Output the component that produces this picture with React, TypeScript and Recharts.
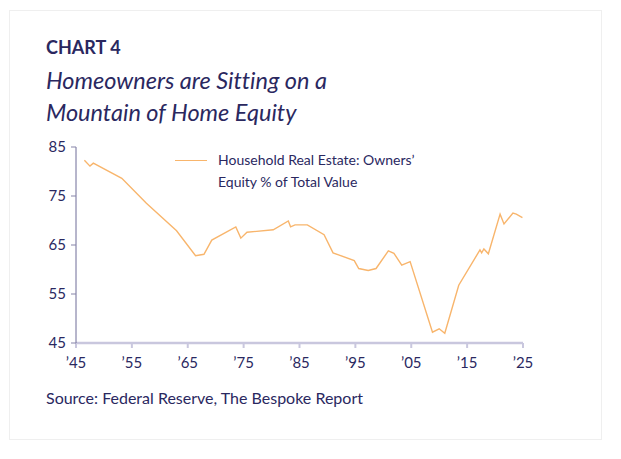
import React from "react";
import { Line, LineChart, XAxis, YAxis } from "recharts";

const years = [
  1946.5, 1947.5, 1948.1, 1953.2, 1957.6, 1963.0, 1966.4, 1967.9, 1969.3, 1973.6,
  1974.5, 1975.6, 1980.3, 1983.0, 1983.4, 1984.2, 1986.4, 1989.4, 1991.0, 1994.8,
  1995.6, 1997.3, 1998.7, 2000.9, 2001.9, 2003.3, 2004.8, 2008.8, 2010.0, 2011.0,
  2013.5, 2017.3, 2017.6, 2018.0, 2018.8, 2020.9, 2021.6, 2023.2, 2023.8, 2024.9,
];
const equityPct = [
  82.3, 81.1, 81.7, 78.6, 73.5, 67.9, 62.8, 63.1, 66.0, 68.7,
  66.4, 67.6, 68.1, 69.9, 68.7, 69.1, 69.1, 67.1, 63.4, 61.8,
  60.2, 59.8, 60.2, 63.8, 63.3, 60.9, 61.6, 47.2, 47.9, 47.0,
  56.8, 64.0, 63.4, 64.2, 63.2, 71.3, 69.3, 71.5, 71.3, 70.6,
];
const xTicks = [1945, 1955, 1965, 1975, 1985, 1995, 2005, 2015, 2025];
const yTicks = [45, 55, 65, 75, 85];
const seriesName = ["Household Real Estate: Owners\u2019", "Equity % of Total Value"];

const data = years.map((year, i) => ({ year, equity: equityPct[i] }));

const NAVY = "#2a285f";
const ORANGE = "#f8b56c";
const FONT = "Lato, 'Noto Sans', sans-serif";

// legend drawn as an overlay so it doesn't eat into the plot area
function LegendBox() {
  return (
    <div style={{ position: "absolute", left: 175, top: 149, display: "flex", alignItems: "flex-start", fontFamily: FONT, color: NAVY, fontSize: 14, lineHeight: "22px" }}>
      <div style={{ width: 32, height: 1.3, background: ORANGE, marginTop: 11, marginRight: 11 }} />
      <div>
        {seriesName.map((s) => (
          <div key={s}>{s}</div>
        ))}
      </div>
    </div>
  );
}

export default function App() {
  return (
    <div style={{ position: "relative", width: 621, height: 459, background: "#fff", margin: -8, fontVariantLigatures: "none" }}>
      <div style={{ position: "absolute", left: 9, top: 10, width: 593, height: 430, border: "1px solid #efefef", boxSizing: "border-box" }} />
      <div style={{ position: "absolute", left: 46, top: 36, fontFamily: FONT, color: NAVY }}>
        <div style={{ fontWeight: 700, fontSize: 18, lineHeight: "22px" }}>CHART 4</div>
        <div style={{ fontStyle: "italic", fontSize: 23.5, lineHeight: "32px", marginTop: 6 }}>
          Homeowners are Sitting on a
          <br />
          Mountain of Home Equity
        </div>
      </div>
      <div style={{ position: "absolute", left: 46, top: 388, fontFamily: FONT, color: NAVY, fontSize: 16 }}>
        Source: Federal Reserve, The Bespoke Report
      </div>
      <div style={{ position: "absolute", left: 0, top: 0 }}>
        <LineChart width={621} height={459} data={data} margin={{ top: 147, right: 98, bottom: 86, left: 36 }}>
          <XAxis
            dataKey="year"
            type="number"
            domain={[1945, 2025]}
            ticks={xTicks}
            tickFormatter={(v) => "\u2019" + String(v).slice(2)}
            tick={{ fill: NAVY, fontSize: 15, fontFamily: FONT }}
            tickLine={{ stroke: "#c9c7de", strokeWidth: 2 }}
            tickSize={5}
            tickMargin={9}
            axisLine={{ stroke: "#c9c7de", strokeWidth: 2.5 }}
            height={30}
          />
          <YAxis
            type="number"
            domain={[45, 85]}
            ticks={yTicks}
            tick={{ fill: NAVY, fontSize: 15, fontFamily: FONT }}
            tickLine={{ stroke: "#8583a8" }}
            tickSize={5}
            tickMargin={5}
            axisLine={{ stroke: "#6e6c98" }}
            width={40}
          />
          <Line
            type="linear"
            dataKey="equity"
            stroke={ORANGE}
            strokeWidth={1.4}
            dot={false}
            isAnimationActive={false}
          />
        </LineChart>
      </div>
      <LegendBox />
    </div>
  );
}
